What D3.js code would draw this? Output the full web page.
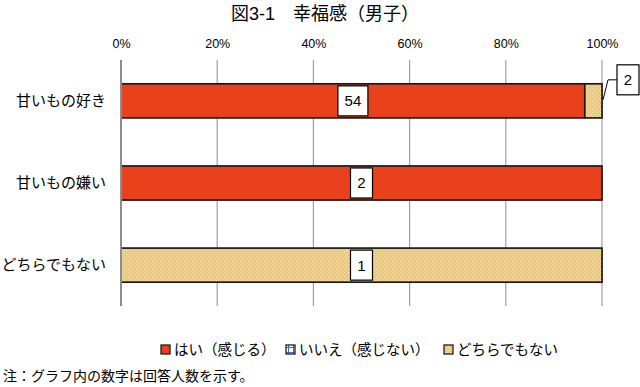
<!DOCTYPE html>
<html>
<head>
<meta charset="utf-8">
<script src="https://cdn.jsdelivr.net/npm/d3@7"></script>
<style>
  body { margin: 0; background: #fff; }
  svg text { font-family: "Liberation Sans", "Noto Sans CJK JP", sans-serif; fill: #000; }
</style>
</head>
<body>
<svg id="chart" width="640" height="387"></svg>
<script>
// data
var categories = ["甘いもの好き", "甘いもの嫌い", "どちらでもない"];
var seriesNames = ["はい（感じる）", "いいえ（感じない）", "どちらでもない"];
var yesCounts = [54, 2, 0];
var noCounts = [0, 0, 0];
var neitherCounts = [2, 0, 1];
var tickValues = [0, 0.2, 0.4, 0.6, 0.8, 1];

var svg = d3.select("#chart");
var defs = svg.append("defs");

// dotted pale orange fill
var pY = defs.append("pattern").attr("id", "pat-neither")
  .attr("patternUnits", "userSpaceOnUse").attr("width", 4).attr("height", 4);
pY.append("rect").attr("width", 4).attr("height", 4).attr("fill", "#fac66c");
pY.append("rect").attr("x", 0).attr("y", 0).attr("width", 1).attr("height", 1).attr("fill", "#ffecc0");
pY.append("rect").attr("x", 2).attr("y", 2).attr("width", 1).attr("height", 1).attr("fill", "#ffecc0");

// small grid for "no"
var pN = defs.append("pattern").attr("id", "pat-no")
  .attr("patternUnits", "userSpaceOnUse").attr("width", 5).attr("height", 5);
pN.append("rect").attr("width", 5).attr("height", 5).attr("fill", "#fff");
pN.append("rect").attr("x", 2).attr("width", 1).attr("height", 5).attr("fill", "#4a63b5");
pN.append("rect").attr("y", 2).attr("width", 5).attr("height", 1).attr("fill", "#4a63b5");

var fills = ["#e8411c", "url(#pat-no)", "url(#pat-neither)"];

var x = d3.scaleLinear().domain([0, 1]).range([121, 602]);
var y = d3.scaleBand().domain(categories).range([60, 306]).paddingInner(0.585).paddingOuter(0.29);

// title
svg.append("text")
  .attr("x", 325).attr("y", 20)
  .attr("text-anchor", "middle")
  .style("font-size", "18px")
  .text("図3-1　幸福感（男子）");

// grid
svg.append("g").selectAll("line")
  .data(tickValues.slice(1))
  .enter().append("line")
  .attr("x1", function(d) { return x(d); })
  .attr("x2", function(d) { return x(d); })
  .attr("y1", 60).attr("y2", 306)
  .attr("stroke", "#a0a0a0").attr("stroke-width", 1.2);

// top axis labels
var ax = svg.append("g").attr("transform", "translate(0,48)")
  .call(d3.axisTop(x).tickValues(tickValues).tickFormat(d3.format(".0%")).tickSize(0).tickPadding(0));
ax.select(".domain").remove();
ax.selectAll("text").style("font-size", "12.5px");

// stacked bars
var rows = categories.map(function(c, i) {
  var vals = [yesCounts[i], noCounts[i], neitherCounts[i]];
  var total = d3.sum(vals);
  var acc = 0;
  return vals.map(function(v, k) {
    var seg = {cat: c, k: k, v: v, x0: acc / total, x1: (acc + v) / total};
    acc += v;
    return seg;
  });
});

var segs = d3.merge(rows).filter(function(d) { return d.v > 0; });

svg.append("g").selectAll("rect")
  .data(segs)
  .enter().append("rect")
  .attr("x", function(d) { return x(d.x0); })
  .attr("y", function(d) { return y(d.cat); })
  .attr("width", function(d) { return x(d.x1) - x(d.x0); })
  .attr("height", y.bandwidth())
  .attr("fill", function(d) { return fills[d.k]; })
  .attr("stroke", "#1a1a1a").attr("stroke-width", 1.7);

// left axis line
svg.append("line")
  .attr("x1", 121).attr("x2", 121).attr("y1", 60).attr("y2", 306)
  .attr("stroke", "#8c8c8c").attr("stroke-width", 2);

// category labels
svg.append("g").selectAll("text")
  .data(categories)
  .enter().append("text")
  .attr("x", 106)
  .attr("y", function(d) { return y(d) + y.bandwidth() / 2; })
  .attr("dy", "0.35em")
  .attr("text-anchor", "end")
  .style("font-size", "15px")
  .text(function(d) { return d; });

// value labels: big segments inside, tiny ones with a callout
function labelBox(g, cx, cy, txt) {
  var w = txt.length > 1 ? 30 : 22;
  g.append("rect")
    .attr("x", cx - w / 2).attr("y", cy - 15)
    .attr("width", w).attr("height", 30)
    .attr("fill", "#fff").attr("stroke", "#000").attr("stroke-width", 1.2);
  g.append("text")
    .attr("x", cx).attr("y", cy).attr("dy", "0.36em")
    .attr("text-anchor", "middle").style("font-size", "15px")
    .text(txt);
}

var lg = svg.append("g");
segs.forEach(function(d) {
  var cy = y(d.cat) + y.bandwidth() / 2;
  if (d.x1 - d.x0 > 0.1) {
    labelBox(lg, (x(d.x0) + x(d.x1)) / 2, cy, String(d.v));
  } else {
    var bx = x(1) + 26, by = y(d.cat) - 4;
    lg.append("polyline")
      .attr("points", [[x(d.x1) + 1, cy - 1], [x(1) + 6, by], [bx - 11, by]].join(" "))
      .attr("fill", "none").attr("stroke", "#000").attr("stroke-width", 1);
    labelBox(lg, bx, by, String(d.v));
  }
});

// legend
var legX = [161, 286, 444];
var leg = svg.append("g").selectAll("g")
  .data(seriesNames)
  .enter().append("g")
  .attr("transform", function(d, i) { return "translate(" + legX[i] + ",350)"; });
leg.append("rect")
  .attr("x", 0).attr("y", -5).attr("width", 9).attr("height", 9)
  .attr("fill", function(d, i) { return fills[i]; })
  .attr("stroke", "#1e1e1e").attr("stroke-width", 1.3);
leg.append("text")
  .attr("x", 13).attr("y", 0).attr("dy", "0.36em")
  .style("font-size", "14.5px")
  .text(function(d) { return d; });

// footnote
svg.append("text")
  .attr("x", 3).attr("y", 381)
  .style("font-size", "14px")
  .text("注：グラフ内の数字は回答人数を示す。");
</script>
</body>
</html>
